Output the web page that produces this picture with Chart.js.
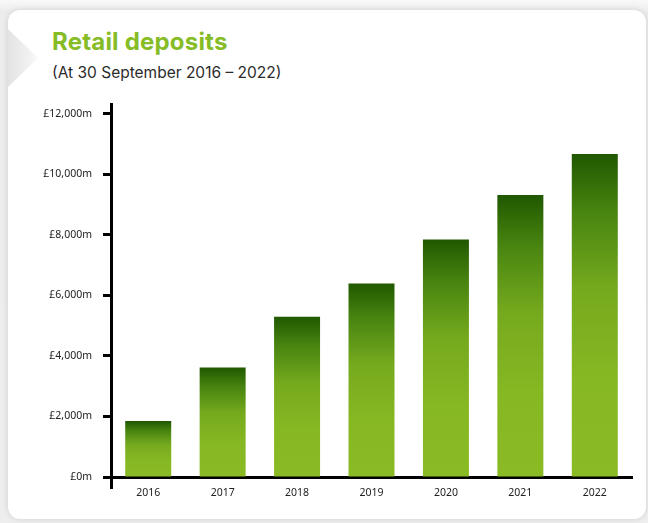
<!DOCTYPE html>
<html lang="en">

<head>
    <meta charset="UTF-8">
    <title>Retail deposits</title>
    <script src="https://cdn.jsdelivr.net/npm/chart.js"></script>
    <style>
        html, body {
            margin: 0;
            padding: 0;
        }

        body {
            width: 648px;
            height: 523px;
            overflow: hidden;
            position: relative;
            background: linear-gradient(#f9f9f9, #ececec 12px, #eeeeee);
        }

        .card {
            position: absolute;
            left: 8px;
            top: 10px;
            width: 638px;
            height: 509px;
            background: #fff;
            border-radius: 12px;
            box-shadow: 0 0 6px rgba(0, 0, 0, 0.12);
        }

        .notch {
            position: absolute;
            left: 8px;
            top: 29px;
            width: 30px;
            height: 58px;
            background: linear-gradient(90deg, #e3e3e3, #f1f1f1 70%, #fbfbfb);
            clip-path: polygon(0 0, 100% 50%, 0 100%);
        }

        .heading {
            position: absolute;
            left: 52px;
            top: 26px;
            font-family: Inter, "Noto Sans", sans-serif;
        }

        .heading h1 {
            margin: 0;
            font-size: 24px;
            font-weight: 700;
            line-height: 32px;
            color: #86bc25;
            letter-spacing: 0.2px;
        }

        .heading p {
            margin: 5px 0 0 0;
            font-size: 15.5px;
            line-height: 20px;
            color: #2b2b2b;
        }

        #depositChart {
            position: absolute;
            left: 0;
            top: 0;
        }
    </style>
</head>

<body>
    <div class="card"></div>
    <div class="notch"></div>
    <div class="heading">
        <h1>Retail deposits</h1>
        <p>(At 30 September 2016 – 2022)</p>
    </div>
    <canvas id="depositChart" width="648" height="523"></canvas>

    <script>
        const years = ["2016", "2017", "2018", "2019", "2020", "2021", "2022"];
        const deposits = [1850, 3620, 5300, 6400, 7850, 9320, 10680];
        const yTicks = [0, 2000, 4000, 6000, 8000, 10000, 12000];

        const ctx = document.getElementById('depositChart');

        // dark green at the top of each bar fading into the light green body
        function barFill(c) {
            const chart = c.chart;
            const y = chart.scales.y;
            if (!y || c.raw == null) return '#8abb25';
            const top = y.getPixelForValue(c.raw);
            const base = y.getPixelForValue(0);
            if (!isFinite(top) || !isFinite(base) || base - top < 1) return '#8abb25';
            const g = chart.ctx.createLinearGradient(0, top, 0, base);
            g.addColorStop(0, '#205800');
            g.addColorStop(0.18, '#488510');
            g.addColorStop(0.42, '#76aa1e');
            g.addColorStop(0.7, '#86b823');
            g.addColorStop(1, '#8abb25');
            return g;
        }

        const chart = new Chart(ctx, {
            type: 'bar',
            data: {
                labels: years,
                datasets: [{
                    data: deposits,
                    backgroundColor: barFill,
                    borderWidth: 0,
                    barPercentage: 0.618,
                    categoryPercentage: 1
                }]
            },
            options: {
                responsive: false,
                animation: false,
                events: [],
                layout: {
                    padding: { left: 20, right: 16, top: 104, bottom: 16 }
                },
                plugins: {
                    legend: { display: false },
                    tooltip: { enabled: false }
                },
                scales: {
                    x: {
                        afterFit(scale) { scale.height = 30; },
                        grid: {
                            drawOnChartArea: false,
                            offset: true,
                            tickLength: 12,
                            tickWidth: 3,
                            tickColor: (c) => c.index === 0 ? '#000' : 'rgba(0,0,0,0)'
                        },
                        border: { color: '#000', width: 3 },
                        ticks: {
                            padding: -2,
                            color: '#222',
                            font: { family: '"Noto Sans", sans-serif', size: 10.5 }
                        }
                    },
                    y: {
                        min: 0,
                        max: 12330,
                        afterFit(scale) { scale.width = 91; },
                        afterBuildTicks(scale) {
                            scale.ticks = yTicks.map(v => ({ value: v }));
                        },
                        grid: {
                            drawOnChartArea: false,
                            tickLength: 8,
                            tickWidth: 3,
                            tickColor: '#000'
                        },
                        border: { color: '#000', width: 3 },
                        ticks: {
                            padding: 11,
                            color: '#222',
                            font: { family: '"Noto Sans", sans-serif', size: 10.5 },
                            callback: (v) => '£' + v.toLocaleString('en-GB') + 'm'
                        }
                    }
                }
            }
        });
    </script>
</body>

</html>
